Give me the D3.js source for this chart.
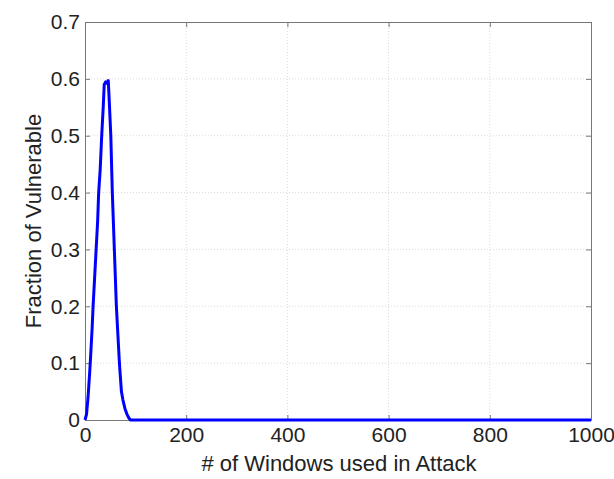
<!DOCTYPE html>
<html>
<head>
<meta charset="utf-8">
<script src="https://cdn.jsdelivr.net/npm/d3@7"></script>
<style>
  body { margin: 0; background: #fff; }
  svg text { font-family: "Liberation Sans", Arial, sans-serif; fill: #222; }
</style>
</head>
<body>
<script>
// values
const windows = [0, 3, 6, 9, 11, 14, 16, 19, 22, 25, 27, 30, 33, 36, 38, 41, 44, 46, 48, 51, 54, 56, 58, 60, 62, 65, 68, 70, 72, 75, 79, 83, 87, 90, 100, 200, 400, 600, 800, 1000];
const fraction = [0, 0.01, 0.04, 0.08, 0.11, 0.16, 0.2, 0.25, 0.3, 0.35, 0.4, 0.44, 0.5, 0.55, 0.59, 0.595, 0.592, 0.597, 0.56, 0.5, 0.4, 0.35, 0.3, 0.25, 0.2, 0.15, 0.1, 0.075, 0.05, 0.035, 0.02, 0.01, 0.003, 0, 0, 0, 0, 0, 0, 0];
const xTicks = [0, 200, 400, 600, 800, 1000];
const yTicks = [0, 0.1, 0.2, 0.3, 0.4, 0.5, 0.6, 0.7];

const width = 614, height = 479;
const margin = { top: 22, right: 23, bottom: 59, left: 85 };
const w = width - margin.left - margin.right;
const h = height - margin.top - margin.bottom;

const svg = d3.select("body").append("svg")
    .attr("width", width)
    .attr("height", height);

const g = svg.append("g")
    .attr("transform", "translate(" + margin.left + "," + margin.top + ")");

const x = d3.scaleLinear().domain([0, 1000]).range([0, w]);
const y = d3.scaleLinear().domain([0, 0.7]).range([h, 0]);

// grid
g.append("g").selectAll("line")
    .data(xTicks.slice(1, -1))
    .enter().append("line")
    .attr("x1", d => x(d)).attr("x2", d => x(d))
    .attr("y1", 0).attr("y2", h)
    .attr("stroke", "#dadada")
    .attr("stroke-dasharray", "1,2");

g.append("g").selectAll("line")
    .data(yTicks.slice(1, -1))
    .enter().append("line")
    .attr("x1", 0).attr("x2", w)
    .attr("y1", d => y(d)).attr("y2", d => y(d))
    .attr("stroke", "#dadada")
    .attr("stroke-dasharray", "1,2");

// axes (ticks pointing inward, matlab style)
const xAxis = g.append("g")
    .attr("transform", "translate(0," + h + ")")
    .call(d3.axisBottom(x).tickValues(xTicks).tickSize(-5).tickPadding(7).tickFormat(d3.format("d")));
const yAxis = g.append("g")
    .call(d3.axisLeft(y).tickValues(yTicks).tickSize(-5).tickPadding(5).tickFormat(d => d === 0 ? "0" : d3.format(".1f")(d)));
g.append("g")
    .call(d3.axisTop(x).tickValues(xTicks).tickSize(-5).tickFormat(""));
g.append("g")
    .attr("transform", "translate(" + w + ",0)")
    .call(d3.axisRight(y).tickValues(yTicks).tickSize(-5).tickFormat(""));

g.selectAll(".domain").attr("stroke", "#777");
g.selectAll(".tick line").attr("stroke", "#777");
xAxis.selectAll("text").style("font-size", "21px").attr("fill", "#222");
yAxis.selectAll("text").style("font-size", "21px").attr("fill", "#222");

// curve
const line = d3.line()
    .x((d, i) => x(windows[i]))
    .y(d => y(d));

g.append("path")
    .datum(fraction)
    .attr("d", line)
    .attr("fill", "none")
    .attr("stroke", "#0000ff")
    .attr("stroke-width", 3)
    .attr("stroke-linejoin", "round");

// labels
svg.append("text")
    .attr("x", margin.left + w / 2 + 1)
    .attr("y", 471)
    .attr("text-anchor", "middle")
    .style("font-size", "22px")
    .text("# of Windows used in Attack");

svg.append("text")
    .attr("transform", "translate(41," + (margin.top + h / 2) + ") rotate(-90)")
    .attr("text-anchor", "middle")
    .style("font-size", "22px")
    .text("Fraction of Vulnerable");
</script>
</body>
</html>
